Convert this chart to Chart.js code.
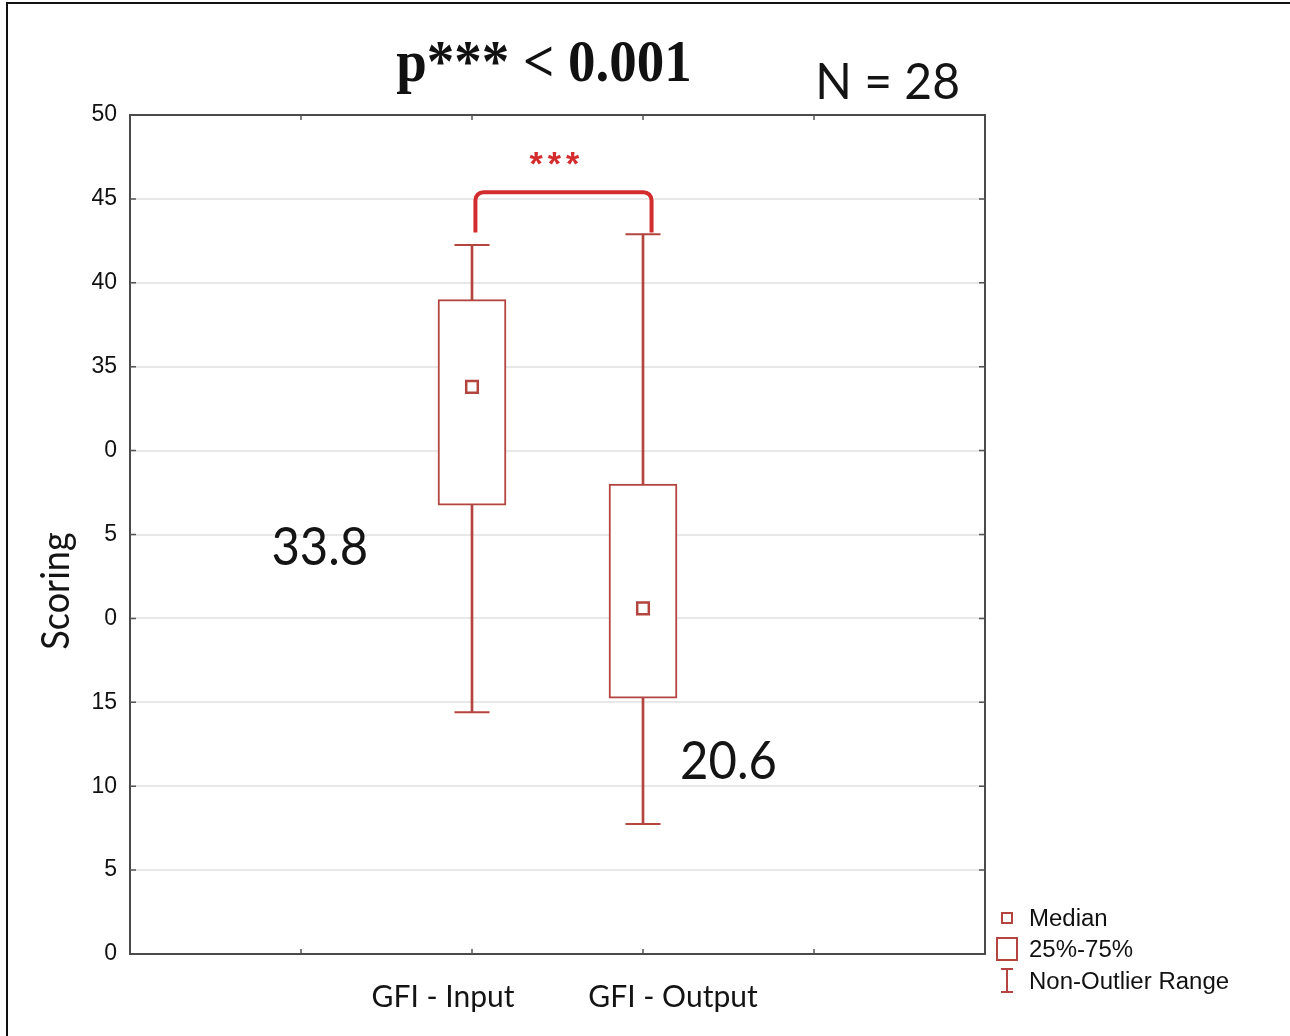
<!DOCTYPE html>
<html>
<head>
<meta charset="utf-8">
<title>GFI scoring</title>
<script src="https://cdn.jsdelivr.net/npm/chart.js@4/dist/chart.umd.min.js"></script>
<style>
  html, body { margin: 0; padding: 0; background: #fff; }
  #wrap { position: relative; width: 1290px; height: 1036px; }
  canvas { display: block; }
</style>
</head>
<body>
<div id="wrap"><canvas id="c" width="1290" height="1036"></canvas></div>
<script>
// ---- data ----
const categories = ['GFI - Input', 'GFI - Output'];
const categoryPos = [2, 3];
const whiskerLow = [14.4, 7.75];
const boxLow = [26.75, 15.25];
const medians = [33.8, 20.6];
const boxHigh = [39.0, 28.0];
const whiskerHigh = [42.25, 42.9];
const yTickLabels = ['0', '5', '10', '15', '0', '5', '0', '35', '40', '45', '50'];
const legendLabels = ['Median', '25%-75%', 'Non-Outlier Range'];
const titleText = 'p*** < 0.001';
const sampleText = 'N = 28';
const signifText = '***';

// significance bracket between the two groups (x in category units, y in score units)
const bracketX = [2.02, 3.05];
const bracketLegY = [43.0, 43.0];
const bracketTopY = 45.4;
const signifAnchor = { x: 2.485, y: 46.4 };
// where each median value is written
const medianLabelAnchor = [{ x: 1.11, y: 24.2 }, { x: 3.5, y: 11.45 }];

// ---- styles ----
const BOX_COLOR = '#b3443f';
const RED = '#d22c2e';
const TEXT = '#141414';
const xLabelShift = [-29, 30];

function drawText(ctx, txt, x, y, font, color, align, baseline, sy) {
  ctx.save();
  ctx.font = font;
  ctx.fillStyle = color;
  ctx.textAlign = align;
  ctx.textBaseline = baseline;
  ctx.translate(x, y);
  ctx.scale(1, sy || 1);
  ctx.fillText(txt, 0, 0);
  ctx.restore();
}

const decorPlugin = {
  id: 'decor',
  beforeDraw(chart) {
    const ctx = chart.ctx;
    ctx.save();
    ctx.fillStyle = '#fff';
    ctx.fillRect(0, 0, chart.width, chart.height);
    // page frame (top and left)
    ctx.strokeStyle = '#111';
    ctx.lineWidth = 2;
    ctx.beginPath();
    ctx.moveTo(7, chart.height);
    ctx.lineTo(7, 3);
    ctx.lineTo(chart.width, 3);
    ctx.stroke();
    ctx.restore();
  },
  beforeDatasetsDraw(chart) {
    const ctx = chart.ctx;
    const a = chart.chartArea;
    const xs = chart.scales.x, ys = chart.scales.y;
    ctx.save();
    // plot frame
    ctx.strokeStyle = '#4a4a4a';
    ctx.lineWidth = 2;
    ctx.strokeRect(a.left, a.top, a.right - a.left, a.bottom - a.top);
    // inward tick marks
    ctx.strokeStyle = '#555';
    ctx.lineWidth = 1.5;
    ctx.beginPath();
    for (let v = 5; v < 50; v += 5) {
      const py = ys.getPixelForValue(v);
      ctx.moveTo(a.left, py); ctx.lineTo(a.left + 6, py);
      ctx.moveTo(a.right, py); ctx.lineTo(a.right - 6, py);
    }
    for (let v = 1; v < 5; v++) {
      const px = xs.getPixelForValue(v);
      ctx.moveTo(px, a.bottom); ctx.lineTo(px, a.bottom - 5);
      ctx.moveTo(px, a.top); ctx.lineTo(px, a.top + 5);
    }
    ctx.stroke();
    ctx.restore();
  },
  afterDatasetsDraw(chart) {
    const ctx = chart.ctx;
    const a = chart.chartArea;
    const xs = chart.scales.x, ys = chart.scales.y;

    // significance bracket
    const x1 = xs.getPixelForValue(bracketX[0]);
    const x2 = xs.getPixelForValue(bracketX[1]);
    const yt = ys.getPixelForValue(bracketTopY);
    const y1 = ys.getPixelForValue(bracketLegY[0]);
    const y2 = ys.getPixelForValue(bracketLegY[1]);
    ctx.save();
    ctx.strokeStyle = RED;
    ctx.lineWidth = 4;
    ctx.lineJoin = 'round';
    ctx.beginPath();
    ctx.moveTo(x1, y1);
    ctx.arcTo(x1, yt, x2, yt, 8);
    ctx.arcTo(x2, yt, x2, y2, 8);
    ctx.lineTo(x2, y2);
    ctx.stroke();
    ctx.restore();

    ctx.save();
    ctx.letterSpacing = '5px';
    drawText(ctx, signifText, xs.getPixelForValue(signifAnchor.x) + 2, ys.getPixelForValue(signifAnchor.y),
      'bold 34px "Liberation Sans"', RED, 'center', 'alphabetic', 1);
    ctx.restore();

    // median values
    medians.forEach((m, i) => {
      drawText(ctx, m.toFixed(1), xs.getPixelForValue(medianLabelAnchor[i].x), ys.getPixelForValue(medianLabelAnchor[i].y),
        '49px Lato', TEXT, 'center', 'middle', 1.06);
    });

    // titles
    drawText(ctx, titleText, 544, 81, 'bold 55px "Liberation Serif"', '#111', 'center', 'alphabetic', 1.08);
    drawText(ctx, sampleText, a.right - 25, 99, '48px Lato', TEXT, 'right', 'alphabetic', 1.06);

    // category labels
    categories.forEach((c, i) => {
      drawText(ctx, c, xs.getPixelForValue(categoryPos[i]) + xLabelShift[i], a.bottom + 43,
        '30px Lato', TEXT, 'center', 'middle', 1.05);
    });

    // y axis title
    ctx.save();
    ctx.translate(57, 591);
    ctx.rotate(-Math.PI / 2);
    drawText(ctx, 'Scoring', 0, 0, '36px Lato', TEXT, 'center', 'middle', 1.05);
    ctx.restore();

    // legend
    const lx = a.right + 22, tx = a.right + 44;
    const rows = [918, 949, 981];
    ctx.save();
    ctx.strokeStyle = BOX_COLOR;
    ctx.lineWidth = 2;
    ctx.strokeRect(lx - 5, rows[0] - 5, 10, 10);
    ctx.strokeRect(lx - 10, rows[1] - 11, 20, 22);
    ctx.beginPath();
    ctx.moveTo(lx, rows[2] - 12); ctx.lineTo(lx, rows[2] + 11);
    ctx.moveTo(lx - 6, rows[2] - 12); ctx.lineTo(lx + 6, rows[2] - 12);
    ctx.moveTo(lx - 6, rows[2] + 11); ctx.lineTo(lx + 6, rows[2] + 11);
    ctx.stroke();
    ctx.restore();
    legendLabels.forEach((t, i) => {
      drawText(ctx, t, tx, rows[i] + 1, '24px "Liberation Sans"', '#111', 'left', 'middle', 1.03);
    });
  }
};

const stems = categoryPos.map((x, i) => ({ x: x, y: [whiskerLow[i], whiskerHigh[i]] }));
const boxes = categoryPos.map((x, i) => ({ x: x, y: [boxLow[i], boxHigh[i]] }));
const caps = [];
categoryPos.forEach((x, i) => { caps.push({ x: x, y: whiskerLow[i] }, { x: x, y: whiskerHigh[i] }); });
const medianPts = categoryPos.map((x, i) => ({ x: x, y: medians[i] }));

new Chart(document.getElementById('c'), {
  type: 'bar',
  data: {
    datasets: [
      { label: legendLabels[2], data: stems, backgroundColor: BOX_COLOR, borderWidth: 0,
        barThickness: 2, grouped: false, order: 3 },
      { label: legendLabels[1], data: boxes, backgroundColor: '#ffffff', borderColor: BOX_COLOR,
        borderWidth: 2, borderSkipped: false, barThickness: 68, grouped: false, order: 2 },
      { type: 'scatter', label: 'caps', data: caps, pointStyle: 'line', radius: 17.5,
        borderColor: BOX_COLOR, borderWidth: 2, order: 1 },
      { type: 'scatter', label: legendLabels[0], data: medianPts, pointStyle: 'rect', radius: 8.2,
        backgroundColor: '#ffffff', borderColor: BOX_COLOR, borderWidth: 2.5, order: 0 }
    ]
  },
  options: {
    responsive: false,
    animation: false,
    events: [],
    layout: { padding: { left: 0, top: 115, right: 305, bottom: 0 } },
    plugins: { legend: { display: false }, tooltip: { enabled: false } },
    scales: {
      x: {
        type: 'linear', min: 0, max: 5, offset: false,
        ticks: { display: false, stepSize: 1 },
        grid: { display: false },
        border: { display: false },
        afterFit(s) { s.height = 82; }
      },
      y: {
        type: 'linear', min: 0, max: 50,
        ticks: {
          stepSize: 5, padding: 13, color: '#111',
          font: { family: 'Liberation Sans', size: 23 },
          callback: (v) => yTickLabels[Math.round(v / 5)]
        },
        grid: { color: 'rgba(0,0,0,0.09)', lineWidth: 2, drawTicks: false },
        border: { display: false },
        afterFit(s) { s.width = 130; }
      }
    }
  },
  plugins: [decorPlugin]
});
</script>
</body>
</html>
